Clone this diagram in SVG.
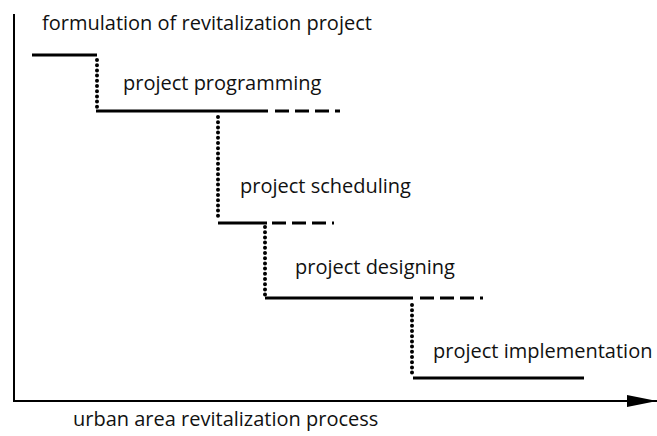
<svg xmlns="http://www.w3.org/2000/svg" width="657" height="436" viewBox="0 0 657 436">
<style>
text{font-family:"Open Sans","Liberation Sans",sans-serif;font-size:20px;fill:#111}
.step{stroke:#000;stroke-width:3;fill:none}
.dash{stroke:#000;stroke-width:3;fill:none;stroke-dasharray:14 6}
.dot{stroke:#000;stroke-width:4;stroke-linecap:round;stroke-dasharray:0 5.2;fill:none}
.axis{stroke:#000;stroke-width:2;fill:none}
</style>
<defs>
<marker id="arr" markerWidth="30" markerHeight="14" refX="30" refY="7" orient="auto" markerUnits="userSpaceOnUse">
<path d="M0,1 L30,7 L0,13 Z" fill="#000"/>
</marker>
</defs>
<g id="axes">
<line class="axis" x1="14" y1="14" x2="14" y2="402"/>
<line class="axis" x1="13" y1="401" x2="657" y2="401" marker-end="url(#arr)"/>
</g>
<g id="connectors">
<path class="dot" d="M97,60 V108"/>
<path class="dot" d="M218,117 V219"/>
<path class="dot" d="M265,227 V295"/>
<path class="dot" d="M412,305 V374"/>
</g>
<g id="step1">
<line class="step" x1="32" y1="55" x2="97" y2="55"/>
<text x="42" y="30">formulation of revitalization project</text>
</g>
<g id="step2">
<line class="step" x1="96" y1="111" x2="268" y2="111"/>
<path class="dash" d="M275,111 H340"/>
<text x="123" y="90">project programming</text>
</g>
<g id="step3">
<line class="step" x1="218" y1="223" x2="267" y2="223"/>
<path class="dash" d="M272,223 H334"/>
<text x="240" y="193">project scheduling</text>
</g>
<g id="step4">
<line class="step" x1="265" y1="298" x2="413" y2="298"/>
<path class="dash" d="M420,298 H483"/>
<text x="295" y="274">project designing</text>
</g>
<g id="step5">
<line class="step" x1="413" y1="378" x2="584" y2="378"/>
<text x="433" y="358">project implementation</text>
</g>
<text x="73" y="426">urban area revitalization process</text>
</svg>
